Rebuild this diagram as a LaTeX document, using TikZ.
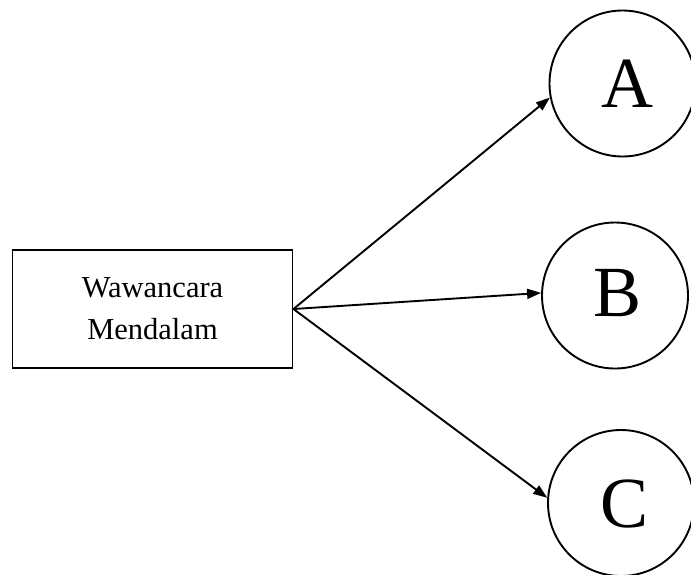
\documentclass[tikz,border=0pt]{standalone}
\usepackage{fontspec}
\setmainfont{Liberation Serif}
\usetikzlibrary{arrows.meta}
\begin{document}
\begin{tikzpicture}[x=1pt,y=-1pt,
  line width=1.9pt,
  boxnode/.style={draw, rectangle, minimum width=280pt, minimum height=118pt,
    align=center, inner sep=0pt, font=\fontsize{30.5pt}{42pt}\selectfont},
  roundnode/.style={draw, circle, minimum size=146pt, inner sep=0pt},
  letter/.style={font=\fontsize{72pt}{76pt}\selectfont, inner sep=0pt},
  link/.style={-{Triangle[length=14pt,width=10pt]}, line width=1.9pt}]
  \useasboundingbox (0,0) rectangle (691,574);
  % source box
  \node[boxnode] (wm) at (152.5,309) {Wawancara\\Mendalam};
  % the three targets
  \node[roundnode] (a) at (622.5,83.5) {};
  \node[roundnode] (b) at (615,295.5) {};
  \node[roundnode] (c) at (621,503) {};
  \node[letter] (la) at (627,83.5) {A};
  \node[letter] (lb) at (618,293) {B};
  \node[letter] (lc) at (625,504) {C};
  % connectors
  \draw[link] (wm.east) -- (a.191);
  \draw[link] (wm.east) -- (b.178);
  \draw[link] (wm.east) -- (c.176);
\end{tikzpicture}
\end{document}
